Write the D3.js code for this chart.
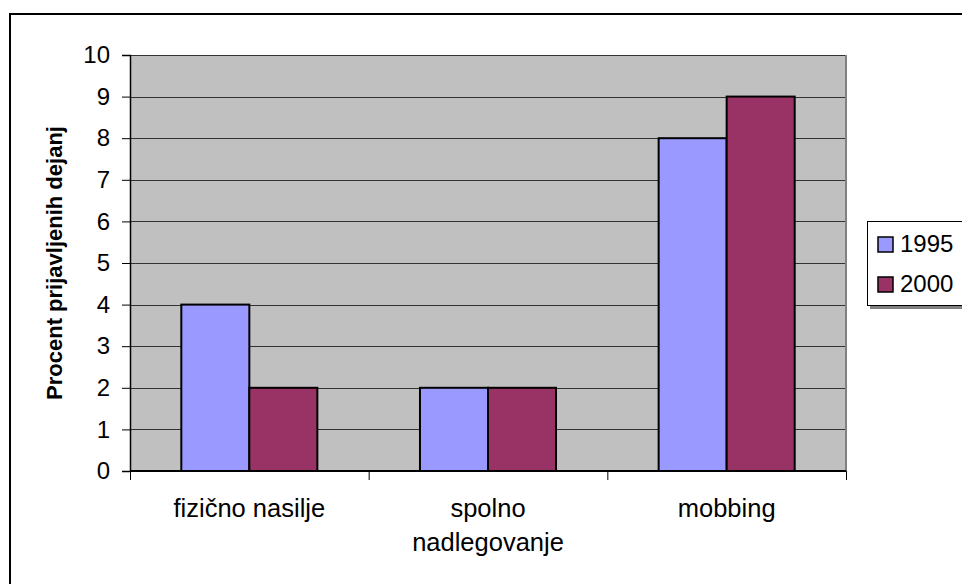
<!DOCTYPE html>
<html>
<head>
<meta charset="utf-8">
<script src="https://cdn.jsdelivr.net/npm/d3@7"></script>
<style>
  html, body { margin: 0; padding: 0; background: #fff; }
  svg { display: block; font-family: Arial, "Liberation Sans", sans-serif; }
</style>
</head>
<body>
<svg id="chart" width="962" height="584"></svg>
<script>
// Chart data
const categories = ["fizično nasilje", "spolno nadlegovanje", "mobbing"];
const categoryLines = [["fizično nasilje"], ["spolno", "nadlegovanje"], ["mobbing"]];
const seriesNames = ["1995", "2000"];
const values1995 = [4, 2, 8];
const values2000 = [2, 2, 9];
const yTicks = [0, 1, 2, 3, 4, 5, 6, 7, 8, 9, 10];
const yTitle = "Procent prijavljenih dejanj";

const seriesValues = [values1995, values2000];
const colors = ["#9999FF", "#993366"];

const svg = d3.select("#chart");

// Outer chart frame
svg.append("rect")
  .attr("x", 10).attr("y", 14)
  .attr("width", 1000).attr("height", 640)
  .attr("fill", "#fff").attr("stroke", "#000").attr("stroke-width", 2);

const plot = { left: 130, right: 846, top: 55, bottom: 471 };

const y = d3.scaleLinear().domain([0, 10]).range([plot.bottom, plot.top]);
const x0 = d3.scaleBand().domain(categories).range([plot.left, plot.right]).padding(0);
const gap = x0.bandwidth() * 0.43;
const x1 = d3.scaleBand().domain(seriesNames).range([gap / 2, x0.bandwidth() - gap / 2]).padding(0);

// Plot background
svg.append("rect")
  .attr("x", plot.left).attr("y", plot.top)
  .attr("width", plot.right - plot.left).attr("height", plot.bottom - plot.top)
  .attr("fill", "#C0C0C0");

// Gridlines
svg.append("g")
  .selectAll("line")
  .data(yTicks.filter(d => d > 0))
  .join("line")
  .attr("x1", plot.left).attr("x2", plot.right)
  .attr("y1", d => Math.round(y(d)) + 0.5).attr("y2", d => Math.round(y(d)) + 0.5)
  .attr("stroke", "#333").attr("stroke-width", 1);

// Plot border on the right
svg.append("line")
  .attr("x1", plot.right).attr("x2", plot.right)
  .attr("y1", plot.top).attr("y2", plot.bottom)
  .attr("stroke", "#808080").attr("stroke-width", 2);

// Bars
const groups = svg.append("g")
  .selectAll("g")
  .data(categories)
  .join("g")
  .attr("transform", d => `translate(${x0(d)},0)`);

groups.selectAll("rect")
  .data((d, i) => seriesNames.map((s, j) => ({ s, j, v: seriesValues[j][i] })))
  .join("rect")
  .attr("x", d => x1(d.s))
  .attr("y", d => y(d.v))
  .attr("width", x1.bandwidth())
  .attr("height", d => y(0) - y(d.v))
  .attr("fill", d => colors[d.j])
  .attr("stroke", "#000").attr("stroke-width", 2);

// Y axis
const yAxis = d3.axisLeft(y).tickValues(yTicks).tickSize(8).tickPadding(12).tickFormat(d3.format("d"));
const gy = svg.append("g").attr("transform", `translate(${plot.left},0)`).call(yAxis);
gy.select(".domain").attr("stroke", "#000").attr("stroke-width", 1.5);
gy.selectAll(".tick line").attr("stroke", "#000");
gy.selectAll(".tick text").attr("font-size", 24).attr("fill", "#000")
  .attr("font-family", "Arial, 'Liberation Sans', sans-serif");

// X axis (category separators as ticks)
const sepScale = d3.scaleLinear().domain([0, 3]).range([plot.left, plot.right]);
const xAxis = d3.axisBottom(sepScale).tickValues([0, 1, 2, 3]).tickSize(9).tickFormat("");
const gx = svg.append("g").attr("transform", `translate(0,${plot.bottom})`).call(xAxis);
gx.select(".domain").attr("stroke", "#000").attr("stroke-width", 2).attr("d", `M${plot.left},0H${plot.right}`);
gx.selectAll(".tick line").attr("stroke", "#000");

// Category labels
const catLabels = svg.append("g");
categories.forEach((c, i) => {
  const t = catLabels.append("text")
    .attr("x", x0(c) + x0.bandwidth() / 2)
    .attr("y", 517)
    .attr("text-anchor", "middle")
    .attr("font-size", 25.5)
    .attr("fill", "#000");
  categoryLines[i].forEach((line, k) => {
    t.append("tspan").attr("x", x0(c) + x0.bandwidth() / 2).attr("dy", k === 0 ? 0 : 34).text(line);
  });
});

// Y axis title
svg.append("text")
  .attr("transform", `translate(62,${(plot.top + plot.bottom) / 2}) rotate(-90)`)
  .attr("text-anchor", "middle")
  .attr("font-size", 22)
  .attr("font-weight", "bold")
  .attr("fill", "#000")
  .text(yTitle);

// Legend
const legend = svg.append("g");
legend.append("rect")
  .attr("x", 870).attr("y", 224).attr("width", 120).attr("height", 85)
  .attr("fill", "#808080");
legend.append("rect")
  .attr("x", 867.5).attr("y", 221.5).attr("width", 120).attr("height", 84)
  .attr("fill", "#fff").attr("stroke", "#000").attr("stroke-width", 1);
seriesNames.forEach((s, i) => {
  legend.append("rect")
    .attr("x", 878).attr("y", 237 + i * 40).attr("width", 15).attr("height", 15)
    .attr("fill", colors[i]).attr("stroke", "#000").attr("stroke-width", 1.5);
  legend.append("text")
    .attr("x", 900).attr("y", 252 + i * 40)
    .attr("font-size", 24).attr("fill", "#000")
    .text(s);
});
</script>
</body>
</html>
